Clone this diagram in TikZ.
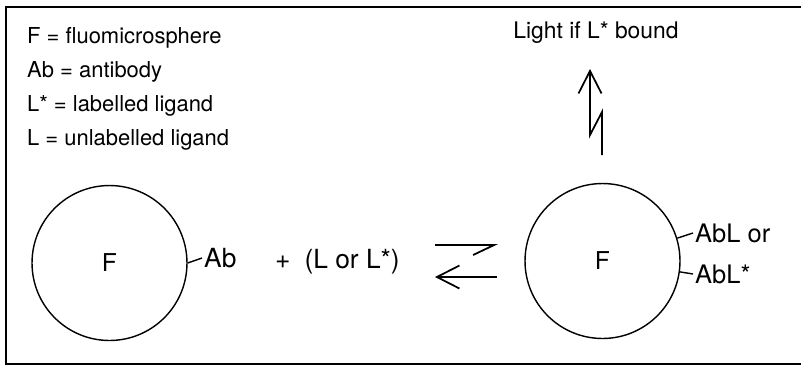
\documentclass[tikz,border=0pt]{standalone}
\usepackage{fontspec}
\setmainfont{TeX Gyre Heros}
\usetikzlibrary{arrows.meta}
\begin{document}
\begin{tikzpicture}[x=0.02cm,y=-0.02cm,
  txt/.style={font=\fontsize{12.5}{15}\selectfont, inner sep=1pt},
  bigtxt/.style={font=\fontsize{15}{18}\selectfont, inner sep=1pt},
  sphere/.style={draw, circle, minimum size=3.1cm, inner sep=0pt, line width=0.8pt, font=\fontsize{14}{16}\selectfont},
  barb/.style={line width=1pt, -{Straight Barb[length=0.45cm, width=0.46cm, line width=1pt]}},
  halfbarb/.style={line width=1pt, -{Straight Barb[length=0.42cm, width=0.4cm, line width=1pt, harpoon, swap]}}]
\useasboundingbox (0,0) rectangle (801,366);
\draw[line width=0.9pt] (801,7) -- (6,7) -- (6,364) -- (801,364);
% key
\node[txt, anchor=west] (keyF) at (25,38) {F = fluomicrosphere};
\node[txt, anchor=west] (keyAb) at (25,72) {Ab = antibody};
\node[txt, anchor=west] (keyLs) at (25,106) {L* = labelled ligand};
\node[txt, anchor=west] (keyL) at (25,140) {L = unlabelled ligand};
\node[txt, font=\fontsize{13}{15}\selectfont] (light) at (596,33) {Light if L* bound};
% spheres
\node[sphere] (fl) at (109.5,263) {F};
\node[bigtxt, anchor=west] (ab) at (202,258) {Ab};
\node[bigtxt, anchor=base west] (lig) at (273,268) {+\hspace{8pt}(L or L*)};
\node[sphere] (fr) at (602.5,261) {F};
\node[bigtxt, font=\fontsize{14.5}{17}\selectfont, anchor=west] (ablor) at (693,233) {AbL or};
\node[bigtxt, font=\fontsize{14.5}{17}\selectfont, anchor=west] (ablst) at (693,274) {AbL*};
\draw[line width=0.8pt] (fl.east) -- (ab.west);
\draw[line width=0.8pt] (fr.17) -- (ablor.west);
\draw[line width=0.8pt] (fr.-8) -- (ablst.west);
% equilibrium
\coordinate (fwd0) at (435,245);
\coordinate (fwd1) at (498,245);
\coordinate (bwd0) at (497,277);
\coordinate (bwd1) at (435,277);
\draw[halfbarb] (fwd0) -- (fwd1);
\draw[barb] (bwd0) -- (bwd1);
% emission
\coordinate (em) at (602,155);
\coordinate (emtip) at (590,69);
\draw[barb] (em) -- ++(0,-43) -- ++(-12,23) -- (emtip);
\end{tikzpicture}
\end{document}
